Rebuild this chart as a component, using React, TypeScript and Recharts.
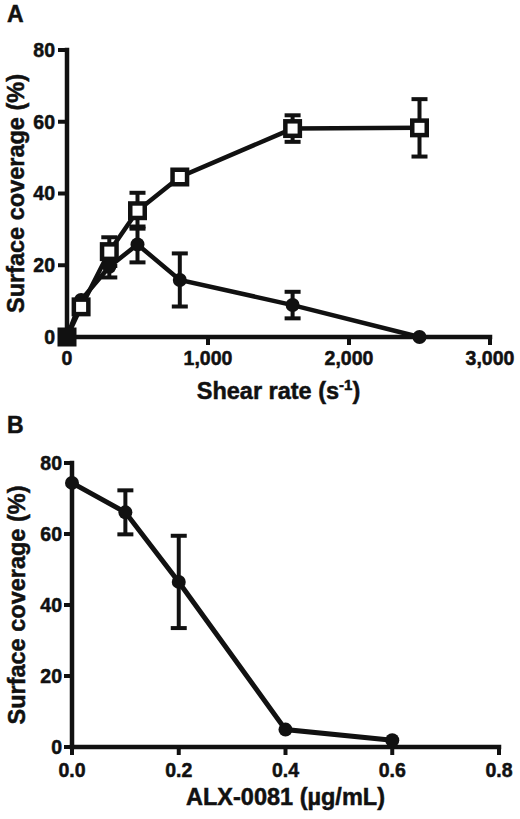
import { LineChart, Line, XAxis, YAxis, ErrorBar, Label } from 'recharts';

// Panel A: surface coverage vs shear rate
const shearRates = [0, 100, 300, 500, 800, 1600, 2500];
const squareCoverage = [0, 8.4, 23.8, 35.2, 44.6, 58.1, 58.3];
const squareError = [null, null, 4, 5, 1, 3.7, 8];
const circleCoverage = [0, 10.3, 19.6, 25.8, 15.9, 8.9, 0];
const circleError = [null, null, 3, 5, 7.4, 3.7, null];
const shearTicks = [0, 1000, 2000, 3000];

// Panel B: surface coverage vs ALX-0081 dose
const alxDoses = [0, 0.1, 0.2, 0.4, 0.6];
const alxCoverage = [74.4, 66.1, 46.5, 4.9, 1.9];
const alxError = [null, 6.2, 13, null, null];
const alxTicks = [0, 0.2, 0.4, 0.6, 0.8];

const coverageTicks = [0, 20, 40, 60, 80];

const INK = '#111';
const FONT = '"Liberation Sans", Arial, Helvetica, sans-serif';

const shearData = shearRates.map((shear, i) => ({
  shear,
  square: squareCoverage[i],
  squareErr: squareError[i],
  circle: circleCoverage[i],
  circleErr: circleError[i],
}));

const alxData = alxDoses.map((dose, i) => ({
  dose,
  coverage: alxCoverage[i],
  coverageErr: alxError[i],
}));

// slight stroke on text to match the heavy scanned lettering
const tickStyle = {
  fill: INK, fontSize: 19.5, fontWeight: 700, fontFamily: FONT, stroke: INK, strokeWidth: 0.5,
};
const axisLineStyle = { stroke: INK, strokeWidth: 4.5, strokeLinecap: 'square' as const };
const tickLineStyle = { stroke: INK, strokeWidth: 4 };
const titleStyle = {
  fill: INK, fontSize: 23.5, fontWeight: 700, fontFamily: FONT, stroke: INK, strokeWidth: 0.5,
};

// open square marker (the origin point is covered by both series, so it reads solid)
const SquareDot = (props: any) => {
  const { cx, cy, index, payload } = props;
  if (cx == null || cy == null) return null;
  const s = 14.5;
  return (
    <rect
      key={`sq-${index}`}
      x={cx - s / 2}
      y={cy - s / 2}
      width={s}
      height={s}
      fill={payload && payload.shear === 0 ? INK : '#fff'}
      stroke={INK}
      strokeWidth={4.5}
    />
  );
};

// rotated y title plus the panel letter
const yTitle = (letter: string, letterY: number, baseX: number, fallbackCy: number) => (props: any) => {
  const vb = props && props.viewBox;
  const cy = vb && vb.height ? vb.y + vb.height / 2 : fallbackCy;
  return (
    <g>
      <text x={7} y={letterY} style={{ ...titleStyle, fontSize: 23 }}>{letter}</text>
      <text
        x={baseX}
        y={cy}
        transform={`rotate(-90 ${baseX} ${cy})`}
        textAnchor="middle"
        style={titleStyle}
      >
        Surface coverage (%)
      </text>
    </g>
  );
};

const xTitle = (offsetY: number, fallbackCx: number, fallbackY: number, children: any) => (props: any) => {
  const vb = props && props.viewBox;
  const cx = vb && vb.width ? vb.x + vb.width / 2 : fallbackCx;
  const y = vb && vb.width ? vb.y + offsetY : fallbackY;
  return (
    <text x={cx} y={y} textAnchor="middle" style={titleStyle}>
      {children}
    </text>
  );
};

const ShearPanel = () => (
  <LineChart width={520} height={410} data={shearData} margin={{ top: 50, right: 30, left: 0, bottom: 13 }}>
    <XAxis
      dataKey="shear"
      type="number"
      domain={[0, 3000]}
      ticks={shearTicks}
      interval={0}
      height={60}
      tickFormatter={(v: number) => v.toLocaleString('en-US')}
      tick={tickStyle}
      axisLine={axisLineStyle}
      tickLine={tickLineStyle}
      tickSize={8}
      tickMargin={6}
    >
      <Label
        content={xTitle(62, 278, 399, (
          <>
            <tspan>Shear rate (s</tspan>
            <tspan dy={-9} fontSize={15}>-1</tspan>
            <tspan dy={9}>)</tspan>
          </>
        ))}
      />
    </XAxis>
    <YAxis
      type="number"
      domain={[0, 80]}
      ticks={coverageTicks}
      interval={0}
      width={67}
      tick={tickStyle}
      axisLine={axisLineStyle}
      tickLine={tickLineStyle}
      tickSize={9}
      tickMargin={3}
    >
      <Label content={yTitle('A', 22, 24, 193.5)} />
    </YAxis>
    <Line
      dataKey="circle"
      type="linear"
      stroke={INK}
      strokeWidth={4.5}
      dot={{ r: 7, fill: INK, stroke: INK, strokeWidth: 0 }}
      isAnimationActive={false}
    >
      <ErrorBar dataKey="circleErr" direction="y" width={8} stroke={INK} strokeWidth={4} />
    </Line>
    <Line
      dataKey="square"
      type="linear"
      stroke={INK}
      strokeWidth={4.5}
      dot={SquareDot}
      isAnimationActive={false}
    >
      <ErrorBar dataKey="squareErr" direction="y" width={8} stroke={INK} strokeWidth={4} />
    </Line>
  </LineChart>
);

const DosePanel = () => (
  <LineChart width={520} height={419} data={alxData} margin={{ top: 63, right: 21, left: 0, bottom: 12 }}>
    <XAxis
      dataKey="dose"
      type="number"
      domain={[0, 0.8]}
      ticks={alxTicks}
      interval={0}
      height={60}
      tickFormatter={(v: number) => v.toFixed(1)}
      tick={tickStyle}
      axisLine={axisLineStyle}
      tickLine={tickLineStyle}
      tickSize={8}
      tickMargin={8}
    >
      <Label content={xTitle(58, 286, 405, 'ALX-0081 (µg/mL)')} />
    </XAxis>
    <YAxis
      type="number"
      domain={[0, 80]}
      ticks={coverageTicks}
      interval={0}
      width={72}
      tick={tickStyle}
      axisLine={axisLineStyle}
      tickLine={tickLineStyle}
      tickSize={8}
      tickMargin={2}
    >
      <Label content={yTitle('B', 33, 25, 205)} />
    </YAxis>
    <Line
      dataKey="coverage"
      type="linear"
      stroke={INK}
      strokeWidth={5}
      dot={{ r: 7, fill: INK, stroke: INK, strokeWidth: 0 }}
      isAnimationActive={false}
    >
      <ErrorBar dataKey="coverageErr" direction="y" width={8} stroke={INK} strokeWidth={4} />
    </Line>
  </LineChart>
);

export default function App() {
  return (
    <div style={{ position: 'absolute', left: 0, top: 0, width: 520, height: 819, background: '#fff' }}>
      <div style={{ position: 'absolute', left: 0, top: 0 }}>
        <ShearPanel />
      </div>
      <div style={{ position: 'absolute', left: 0, top: 400 }}>
        <DosePanel />
      </div>
    </div>
  );
}
